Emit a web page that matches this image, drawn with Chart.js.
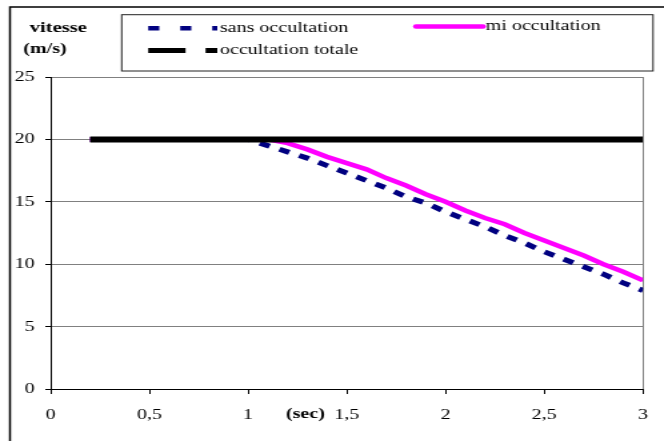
<!DOCTYPE html>
<html>
<head>
<meta charset="utf-8">
<script src="https://cdn.jsdelivr.net/npm/chart.js@4/dist/chart.umd.min.js"></script>
<style>
  html, body { margin: 0; padding: 0; background: #fff; overflow: hidden; }
  /* the original picture is stretched sideways, so the chart is drawn narrow and widened */
  #wrap { width: 498px; height: 441px; transform: scaleX(1.333333); transform-origin: 0 0; }
</style>
</head>
<body>
<div id="wrap"><canvas id="myChart"></canvas></div>
<script>
const times = [0.2, 0.3, 0.4, 0.5, 0.6, 0.7, 0.8, 0.9, 1.0, 1.1, 1.2, 1.3, 1.4, 1.5, 1.6,
               1.7, 1.8, 1.9, 2.0, 2.1, 2.2, 2.3, 2.4, 2.5, 2.6, 2.7, 2.8, 2.9, 3.0];
const sansOccultation = [20, 20, 20, 20, 20, 20, 20, 20, 20, 19.5, 19.0, 18.5, 17.9, 17.3, 16.7,
                         16.1, 15.4, 14.9, 14.2, 13.6, 13.0, 12.3, 11.7, 11.0, 10.4, 9.8, 9.2, 8.5, 7.9];
const miOccultation = [20, 20, 20, 20, 20, 20, 20, 20, 20, 20, 19.7, 19.2, 18.6, 18.1, 17.6,
                       16.9, 16.3, 15.6, 15.0, 14.3, 13.7, 13.2, 12.5, 11.9, 11.3, 10.7, 10.0, 9.4, 8.7];
const occultationTotale = [20, 20, 20, 20, 20, 20, 20, 20, 20, 20, 20, 20, 20, 20, 20,
                           20, 20, 20, 20, 20, 20, 20, 20, 20, 20, 20, 20, 20, 20];
const xTicks = [0, 0.5, 1, 1.5, 2, 2.5, 3];
const yTicks = [0, 5, 10, 15, 20, 25];

const FONT = '"Liberation Serif", "Times New Roman", serif';
const toPoints = ys => times.map((t, i) => ({x: t, y: ys[i]}));

// legend sample settings, per dataset
const legendItems = [
    {ds: 0, x: 111.2, y: 28.3, len: 51.8, dash: [8.3, 15.7], width: 4.5, cap: 'butt'},
    {ds: 1, x: 312, y: 26.5, len: 50.3, dash: [], width: 4.5, cap: 'round'},
    {ds: 2, x: 111.2, y: 50.5, len: 51.8, dash: [28, 15], width: 5, cap: 'butt'},
];

const decor = {
    id: 'decor',
    afterDraw(chart) {
        const c = chart.ctx;
        c.save();
        // outer frame
        c.strokeStyle = '#000';
        c.lineWidth = 1.5;
        c.strokeRect(7.5, 7, 600, 500);
        // legend box
        c.lineWidth = 1;
        c.strokeStyle = '#222';
        c.strokeRect(91.3, 14.7, 398.5, 56.3);
        c.font = '15px ' + FONT;
        c.textBaseline = 'middle';
        c.textAlign = 'left';
        legendItems.forEach(it => {
            const ds = chart.data.datasets[it.ds];
            c.strokeStyle = ds.borderColor;
            c.lineWidth = it.width;
            c.lineCap = it.cap;
            c.setLineDash(it.dash);
            c.beginPath();
            c.moveTo(it.x, it.y);
            c.lineTo(it.x + it.len, it.y);
            c.stroke();
            c.setLineDash([]);
            c.fillStyle = '#000';
            c.fillText(ds.label, it.x + it.len + 2, it.y);
        });
        // axis titles
        c.font = 'bold 15.5px ' + FONT;
        c.textAlign = 'center';
        c.fillText('vitesse', 43.7, 28.3);
        c.font = 'bold 15px ' + FONT;
        c.fillText('(m/s)', 33.8, 49.3);
        c.fillText('(sec)', 229.1, 414);
        c.restore();
    }
};

const ctx = document.getElementById('myChart');
const myChart = new Chart(ctx, {
    type: 'line',
    data: {
        datasets: [{
            label: 'sans occultation',
            data: toPoints(sansOccultation),
            borderColor: '#000080',
            borderWidth: 5,
            borderDash: [8, 8],
            order: 2,
        }, {
            label: 'mi occultation',
            data: toPoints(miOccultation),
            borderColor: '#ff00ff',
            borderWidth: 4.5,
            order: 1,
        }, {
            label: 'occultation totale',
            data: toPoints(occultationTotale),
            borderColor: '#000000',
            borderWidth: 6,
            order: 0,
        }]
    },
    options: {
        responsive: true,
        maintainAspectRatio: false,
        devicePixelRatio: 1,
        animation: false,
        elements: {
            point: { radius: 0 },
            line: { tension: 0, fill: false }
        },
        layout: {
            padding: { top: 77, right: 5.5, left: 0, bottom: 0 }
        },
        plugins: {
            legend: { display: false },
            title: { display: false },
            tooltip: { enabled: false }
        },
        scales: {
            x: {
                type: 'linear',
                min: 0,
                max: 3,
                afterBuildTicks: scale => { scale.ticks = xTicks.map(v => ({value: v})); },
                afterFit: scale => { scale.height = 52; },
                border: { color: '#000', width: 1 },
                grid: {
                    color: c => (c.tick && c.tick.value === 3) ? '#808080' : 'rgba(0,0,0,0)',
                    tickColor: '#000',
                    tickLength: 5,
                },
                ticks: {
                    autoSkip: false,
                    maxRotation: 0,
                    padding: 12,
                    color: '#000',
                    font: { family: FONT, size: 15 },
                    callback: function(value) {
                        return String(value).replace('.', ',');
                    }
                }
            },
            y: {
                min: 0,
                max: 25,
                afterBuildTicks: scale => { scale.ticks = yTicks.map(v => ({value: v})); },
                afterFit: scale => { scale.width = 38; },
                border: { color: '#000', width: 1 },
                grid: {
                    color: '#808080',
                    tickColor: '#000',
                    tickLength: 4,
                },
                ticks: {
                    padding: 8,
                    color: '#000',
                    font: { family: FONT, size: 15 }
                }
            }
        }
    },
    plugins: [decor]
});
</script>
</body>
</html>
